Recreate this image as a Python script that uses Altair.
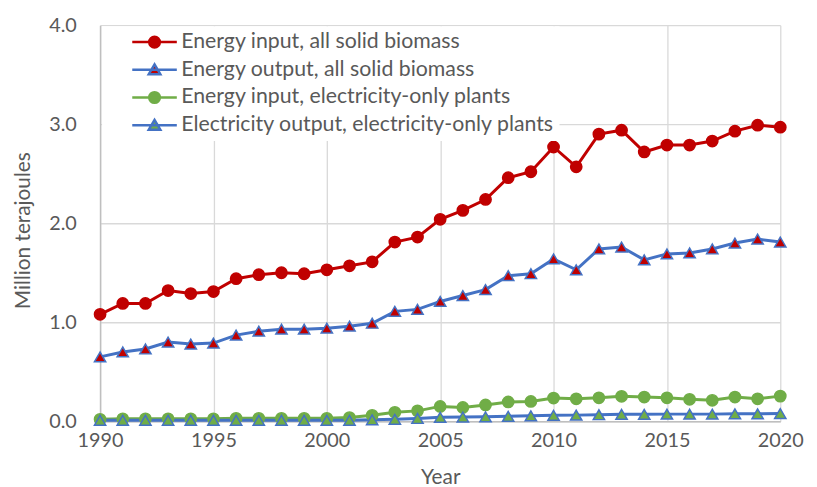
import altair as alt
import pandas as pd

years = [1990, 1991, 1992, 1993, 1994, 1995, 1996, 1997, 1998, 1999,
         2000, 2001, 2002, 2003, 2004, 2005, 2006, 2007, 2008, 2009,
         2010, 2011, 2012, 2013, 2014, 2015, 2016, 2017, 2018, 2019, 2020]

series_names = [
    "Energy input, all solid biomass",
    "Energy output, all solid biomass",
    "Energy input, electricity-only plants",
    "Electricity output, electricity-only plants",
]

energy_input_all = [1.08, 1.19, 1.19, 1.32, 1.29, 1.31, 1.44, 1.48, 1.50, 1.49,
                    1.53, 1.57, 1.61, 1.81, 1.86, 2.04, 2.13, 2.24, 2.46, 2.52,
                    2.77, 2.57, 2.90, 2.94, 2.72, 2.79, 2.79, 2.83, 2.93, 2.99, 2.97]
energy_output_all = [0.65, 0.70, 0.73, 0.80, 0.78, 0.79, 0.87, 0.91, 0.93, 0.93,
                     0.94, 0.96, 0.99, 1.11, 1.13, 1.21, 1.27, 1.33, 1.47, 1.49,
                     1.64, 1.53, 1.74, 1.76, 1.63, 1.69, 1.70, 1.74, 1.80, 1.84, 1.81]
energy_input_elec = [0.02, 0.025, 0.025, 0.025, 0.025, 0.025, 0.03, 0.03, 0.03, 0.03,
                     0.03, 0.037, 0.06, 0.09, 0.105, 0.15, 0.14, 0.165, 0.195, 0.20,
                     0.234, 0.227, 0.237, 0.252, 0.244, 0.237, 0.222, 0.212, 0.244, 0.227, 0.254]
elec_output_elec = [0.01, 0.01, 0.01, 0.01, 0.01, 0.01, 0.01, 0.01, 0.01, 0.01,
                    0.01, 0.01, 0.015, 0.02, 0.028, 0.04, 0.042, 0.045, 0.05, 0.055,
                    0.06, 0.062, 0.066, 0.07, 0.07, 0.072, 0.072, 0.072, 0.075, 0.075, 0.078]

line_colors = ["#C00000", "#4472C4", "#70AD47", "#4472C4"]
fill_colors = ["#C00000", "#C00000", "#70AD47", "#70AD47"]
plot_shapes = ["circle", "triangle-up", "circle", "triangle-up"]
legend_shapes = [
    "M-1,0H1M-0.24,0A0.24,0.24,0,1,0,0.24,0A0.24,0.24,0,1,0,-0.24,0Z",
    "M-1,0H1M0,-0.24L0.26,0.2L-0.26,0.2Z",
    "M-1,0H1M-0.24,0A0.24,0.24,0,1,0,0.24,0A0.24,0.24,0,1,0,-0.24,0Z",
    "M-1,0H1M0,-0.24L0.26,0.2L-0.26,0.2Z",
]

all_values = [energy_input_all, energy_output_all, energy_input_elec, elec_output_elec]
rows = []
for name, vals in zip(series_names, all_values):
    for yr, v in zip(years, vals):
        rows.append({"year": yr, "value": v, "series": name})
df = pd.DataFrame(rows)

FONT = "Lato"
GREY = "#595959"

x_enc = alt.X(
    "year:Q",
    scale=alt.Scale(domain=[1990, 2020], nice=False, zero=False),
    axis=alt.Axis(
        values=[1990, 1995, 2000, 2005, 2010, 2015, 2020],
        format="d",
        title="Year",
        grid=True,
        gridColor="#D9D9D9",
        gridWidth=1.3,
        domainColor="#BFBFBF",
        domainWidth=1.5,
        ticks=False,
        tickSize=0,
        labelFlush=False,
        labelPadding=9,
        labelFont=FONT,
        labelFontSize=20,
        labelColor=GREY,
        titleFont=FONT,
        titleFontSize=21,
        titleFontWeight="normal",
        titleColor=GREY,
        titleY=57,
        titleBaseline="middle",
    ),
)
y_enc = alt.Y(
    "value:Q",
    scale=alt.Scale(domain=[0, 4], nice=False),
    axis=alt.Axis(
        values=[0, 1, 2, 3, 4],
        format=".1f",
        title="Million terajoules",
        grid=True,
        gridColor="#D9D9D9",
        gridWidth=1.3,
        domainColor="#BFBFBF",
        domainWidth=1.5,
        ticks=False,
        tickSize=0,
        labelFlush=False,
        labelPadding=24,
        labelFont=FONT,
        labelFontSize=20,
        labelColor=GREY,
        titleFont=FONT,
        titleFontSize=21,
        titleFontWeight="normal",
        titleColor=GREY,
        titleX=-77,
        titleY=207,
        titleAlign="center",
        titleBaseline="middle",
    ),
)

base = alt.Chart(df)

lines = base.mark_line(strokeWidth=3).encode(
    x=x_enc,
    y=y_enc,
    stroke=alt.Stroke("series:N", scale=alt.Scale(domain=series_names, range=line_colors), legend=None),
)

points = base.mark_point(filled=True, size=130, strokeWidth=1.5, opacity=1).encode(
    x=x_enc,
    y=y_enc,
    stroke=alt.Stroke("series:N", scale=alt.Scale(domain=series_names, range=line_colors), legend=None),
    fill=alt.Fill("series:N", scale=alt.Scale(domain=series_names, range=fill_colors), legend=None),
    shape=alt.Shape("series:N", scale=alt.Scale(domain=series_names, range=plot_shapes), legend=None),
)

leg = alt.Legend(
    title=None,
    orient="none",
    legendX=2,
    legendY=1,
    padding=5,
    fillColor="white",
    symbolSize=2025,
    symbolStrokeWidth=2.5,
    symbolOffset=24,
    clipHeight=22,
    rowPadding=6,
    labelOffset=3,
    labelFont=FONT,
    labelFontSize=21.5,
    labelColor=GREY,
    labelLimit=700,
)

legend_layer = base.transform_filter("datum.year > 3000").mark_point(
    filled=True, size=130, strokeWidth=2.5, opacity=1
).encode(
    x=x_enc,
    y=y_enc,
    stroke=alt.Stroke("series:N", scale=alt.Scale(domain=series_names, range=line_colors), legend=leg),
    fill=alt.Fill("series:N", scale=alt.Scale(domain=series_names, range=fill_colors), legend=leg),
    shape=alt.Shape("series:N", scale=alt.Scale(domain=series_names, range=legend_shapes), legend=leg),
)

chart = alt.layer(lines, points, legend_layer).resolve_scale(
    stroke="independent", fill="independent", shape="independent"
).properties(
    width=687,
    height=400,
    autosize=alt.AutoSizeParams(type="none"),
    padding={"left": 93, "top": 15, "right": 29, "bottom": 64},
).configure_view(stroke=None)

chart.save("out.html", embed_options={"renderer": "svg", "actions": False})
